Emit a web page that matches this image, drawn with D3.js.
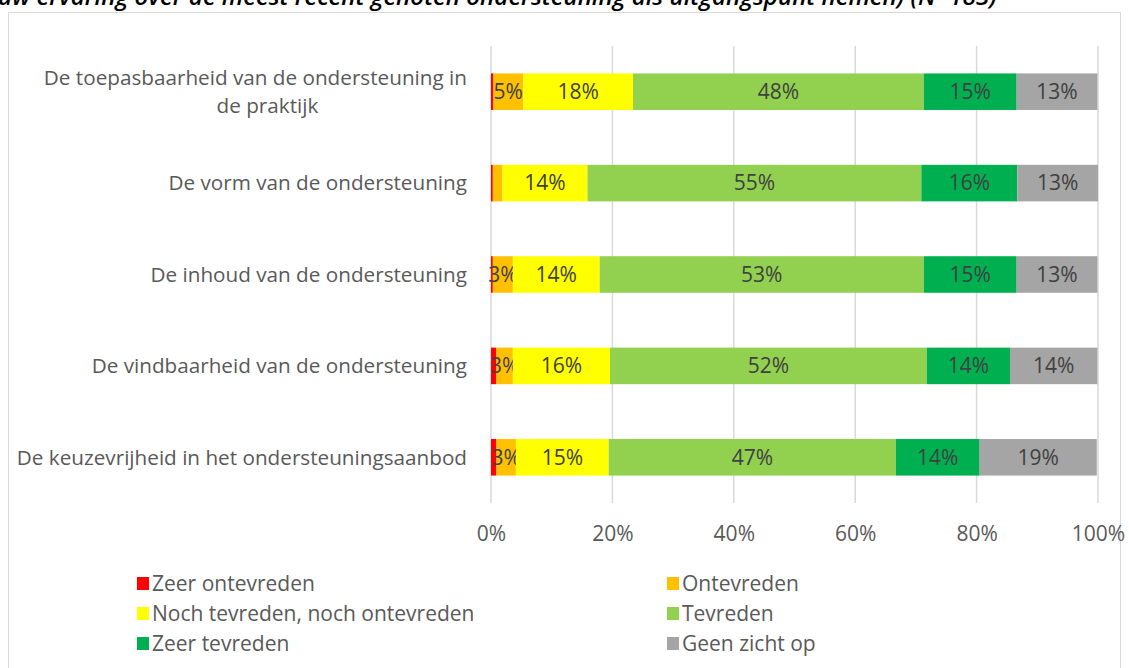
<!DOCTYPE html>
<html>
<head>
<meta charset="utf-8">
<script src="https://cdn.jsdelivr.net/npm/d3@7"></script>
<style>
    body { margin: 0; background: #fff; }
    svg { font-family: "Open Sans", Lato, sans-serif; }
</style>
</head>
<body>
<svg id="drawing_region"></svg>
<script>
const categories = [
    "De toepasbaarheid van de ondersteuning in de praktijk",
    "De vorm van de ondersteuning",
    "De inhoud van de ondersteuning",
    "De vindbaarheid van de ondersteuning",
    "De keuzevrijheid in het ondersteuningsaanbod"
];
const series_names = [
    "Zeer ontevreden", "Ontevreden", "Noch tevreden, noch ontevreden",
    "Tevreden", "Zeer tevreden", "Geen zicht op"
];
const series_colors = ["#ff0000", "#ffc000", "#ffff00", "#92d050", "#00b050", "#a5a5a5"];

// percentages per category, in series order
const zeer_ontevreden = [0.4, 0.3, 0.3, 0.9, 0.9];
const ontevreden      = [4.9, 1.6, 3.3, 2.7, 3.2];
const noch_noch       = [18.1, 14.0, 14.3, 16.0, 15.3];
const tevreden        = [47.9, 55.0, 53.4, 52.2, 47.3];
const zeer_tevreden   = [15.3, 15.8, 15.3, 13.7, 13.8];
const geen_zicht      = [13.3, 13.3, 13.3, 14.4, 19.3];

const x_ticks = [0, 20, 40, 60, 80, 100];
const title_text = "uw ervaring over de meest recent genoten ondersteuning als uitgangspunt nemen) (N=183)";

const series_values = [zeer_ontevreden, ontevreden, noch_noch, tevreden, zeer_tevreden, geen_zicht];

const data = categories.map((c, i) => {
    const row = { category: c };
    series_names.forEach((s, j) => { row[s] = series_values[j][i]; });
    return row;
});

class StackedBar {
    constructor(config, data) {
        this.config = config;
        this.data = data;
        this.init();
    }

    init() {
        const self = this;
        const cfg = self.config;

        self.svg = d3.select(cfg.parent)
            .attr("width", cfg.width)
            .attr("height", cfg.height);

        // chart frame
        self.svg.append("rect")
            .attr("x", 8.5).attr("y", 12.5)
            .attr("width", 1112).attr("height", 700)
            .attr("fill", "none")
            .attr("stroke", "#d9d9d9");

        // title, cut off at the top as in the source page; sized to end near x=997
        const title = self.svg.append("text")
            .attr("x", -2).attr("y", 5)
            .attr("font-size", 20)
            .attr("font-style", "italic")
            .attr("font-weight", 600)
            .attr("fill", "#000")
            .text(title_text);
        const tw = title.node().getComputedTextLength();
        title.attr("font-size", 20 * 999 / tw);

        self.chart = self.svg.append("g")
            .attr("transform", `translate(${cfg.margin.left},${cfg.margin.top})`);

        self.inner_width  = cfg.width  - cfg.margin.left - cfg.margin.right;
        self.inner_height = cfg.plot_height;

        self.xscale = d3.scaleLinear().domain([0, 100]).range([0, self.inner_width]);
        self.yscale = d3.scaleBand()
            .domain(categories)
            .range([0, self.inner_height])
            .paddingInner(0.6)
            .paddingOuter(0.3);

        self.xaxis = d3.axisBottom(self.xscale)
            .tickValues(x_ticks)
            .tickSize(0)
            .tickPadding(23)
            .tickFormat(d => d + "%");

        self.grid_group = self.chart.append("g");
        self.bar_group = self.chart.append("g");
        self.xaxis_group = self.chart.append("g")
            .attr("transform", `translate(0,${self.inner_height})`);
        self.ylabel_group = self.chart.append("g");
        self.legend_group = self.svg.append("g");
    }

    update() {
        const self = this;
        self.stack = d3.stack().keys(series_names)(self.data);
        self.render();
    }

    render() {
        const self = this;
        const fs = self.config.font_size;

        self.grid_group.selectAll("line")
            .data(x_ticks)
            .enter()
            .append("line")
            .attr("x1", d => self.xscale(d))
            .attr("x2", d => self.xscale(d))
            .attr("y1", 0)
            .attr("y2", self.inner_height)
            .attr("stroke", "#d9d9d9")
            .attr("stroke-width", 1.5);

        const layers = self.bar_group.selectAll("g")
            .data(self.stack)
            .enter()
            .append("g")
            .attr("fill", (d, i) => series_colors[i]);

        layers.selectAll("rect")
            .data(d => d)
            .enter()
            .append("rect")
            .attr("x", d => self.xscale(d[0]))
            .attr("y", d => self.yscale(d.data.category))
            .attr("width", d => self.xscale(d[1]) - self.xscale(d[0]))
            .attr("height", self.yscale.bandwidth());

        layers.selectAll("text")
            .data(d => d.filter(p => p[1] - p[0] >= 2))
            .enter()
            .append("text")
            .attr("x", d => self.xscale((d[0] + d[1]) / 2))
            .attr("y", d => self.yscale(d.data.category) + self.yscale.bandwidth() / 2)
            .attr("dy", "0.35em")
            .attr("text-anchor", "middle")
            .attr("font-size", fs)
            .attr("fill", "#404040")
            .text(d => Math.round(d[1] - d[0]) + "%");

        self.xaxis_group.call(self.xaxis);
        self.xaxis_group.select(".domain").remove();
        self.xaxis_group.selectAll("text")
            .attr("font-size", fs)
            .attr("font-family", "'Open Sans', sans-serif")
            .attr("fill", "#595959");

        // category labels, first one wrapped over two lines
        const label_x = -24;
        self.ylabel_group.selectAll("text")
            .data(categories)
            .enter()
            .append("text")
            .attr("x", label_x)
            .attr("y", d => self.yscale(d) + self.yscale.bandwidth() / 2)
            .attr("font-size", fs - 0.3)
            .attr("fill", "#595959")
            .attr("text-anchor", "end")
            .each(function(d, i) {
                const t = d3.select(this);
                if (i === 0) {
                    const l1 = t.append("tspan").attr("x", label_x).attr("dy", "-0.3em")
                        .text("De toepasbaarheid van de ondersteuning in");
                    const w = l1.node().getComputedTextLength();
                    t.append("tspan")
                        .attr("x", label_x - w / 2 + 12)
                        .attr("dy", "1.35em")
                        .attr("text-anchor", "middle")
                        .text("de praktijk");
                } else {
                    t.attr("dy", "0.35em").text(d);
                }
            });

        // legend: two columns, three rows
        const leg = self.legend_group.selectAll("g")
            .data(series_names)
            .enter()
            .append("g")
            .attr("transform", (d, i) =>
                `translate(${i % 2 === 0 ? 137 : 667},${577 + Math.floor(i / 2) * 30})`);

        leg.append("rect")
            .attr("width", 12).attr("height", 13)
            .attr("fill", (d, i) => series_colors[i]);

        leg.append("text")
            .attr("x", 15).attr("y", 7)
            .attr("dy", "0.35em")
            .attr("font-size", fs)
            .attr("fill", "#595959")
            .text(d => d);
    }
}

const config = {
    parent: '#drawing_region',
    width: 1129,
    height: 668,
    plot_height: 457,
    font_size: 21,
    margin: {top: 46, right: 31, bottom: 165, left: 491}
};

const bar_chart = new StackedBar(config, data);
bar_chart.update();
</script>
</body>
</html>
